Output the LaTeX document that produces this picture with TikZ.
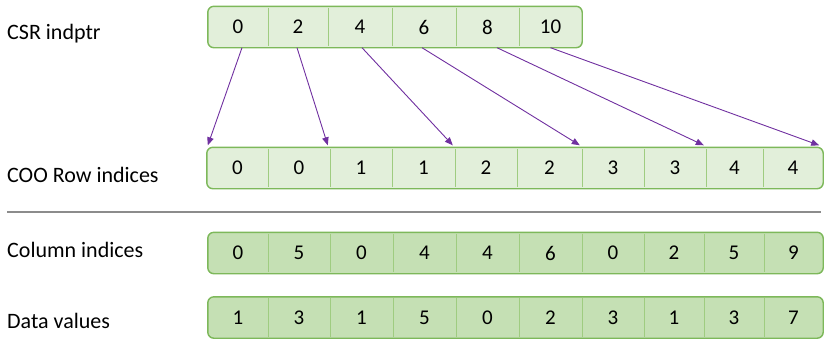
\documentclass[tikz,border=0pt]{standalone}
\usepackage{fontspec}
\setmainfont{Carlito}
\usetikzlibrary{arrows.meta,backgrounds}
\definecolor{lightfill}{HTML}{E2EFDA}
\definecolor{darkfill}{HTML}{C5E0B4}
\definecolor{boxline}{HTML}{7DB85A}
\definecolor{divline}{HTML}{9FCC80}
\definecolor{arrowpurple}{HTML}{7030A0}
\definecolor{sepgray}{HTML}{8C8C8C}
\tikzset{
  cell/.style={inner sep=0pt, minimum height=41pt, font=\fontsize{21}{25}\selectfont},
  rowlabel/.style={anchor=base west, inner sep=0pt, font=\fontsize{22}{26}\selectfont},
  lightbox/.style={fill=lightfill, draw=boxline, line width=1.4pt, rounded corners=6pt},
  darkbox/.style={fill=darkfill, draw=boxline, line width=1.4pt, rounded corners=6pt},
  divider/.style={draw=divline, line width=1pt, shorten <=1.5pt, shorten >=1.5pt},
  ptr/.style={draw=arrowpurple, line width=0.9pt, -{Triangle[length=8pt,width=6.5pt]}},
  separator/.style={draw=sepgray, line width=1.5pt}
}
\begin{document}
\begin{tikzpicture}[x=1pt,y=-1pt]
\useasboundingbox (0,0) rectangle (831,351);

% labels
\node[rowlabel] (lcsr) at (7,39) {CSR indptr};
\node[rowlabel] (lcoo) at (7,182) {COO Row indices};
\node[rowlabel] (lcol) at (7,257) {Column indices};
\node[rowlabel] (ldat) at (7,328) {Data values};

% CSR indptr row
\foreach \l/\r/\v [count=\i from 0] in {208/268/0,268/328/2,328/392/4,392/456/6,456/519/8,519/582/10}
  \node[cell, minimum width={(\r-\l)*1pt}] (t\i) at ({(\l+\r)/2},27) {\v};

% COO row
\foreach \l/\r/\v [count=\i from 0] in {207/268/0,268/330/0,330/392/1,392/455/1,455/517/2,517/582/2,582/644/3,644/706/3,706/763/4,763/823/4}
  \node[cell, minimum width={(\r-\l)*1pt}] (r\i) at ({(\l+\r)/2},168) {\v};

% Column indices row
\foreach \l/\r/\v [count=\i from 0] in {208/268/0,268/330/5,330/393/0,393/456/4,456/519/4,519/582/6,582/644/0,644/704/2,704/764/5,764/823/9}
  \node[cell, minimum width={(\r-\l)*1pt}] (c\i) at ({(\l+\r)/2},253) {\v};

% Data values row
\foreach \l/\r/\v [count=\i from 0] in {208/268/1,268/330/3,330/393/1,393/456/5,456/519/0,519/582/2,582/644/3,644/704/1,704/764/3,764/823/7}
  \node[cell, minimum width={(\r-\l)*1pt}] (d\i) at ({(\l+\r)/2},317.5) {\v};

\begin{scope}[on background layer]
  \draw[lightbox] (t0.north west) rectangle (t5.south east);
  \draw[lightbox] (r0.north west) rectangle (r9.south east);
  \draw[darkbox] (c0.north west) rectangle (c9.south east);
  \draw[darkbox] (d0.north west) rectangle (d9.south east);
\end{scope}

% dividers
\foreach \i in {0,...,4}
  \draw[divider] (t\i.north east) -- (t\i.south east);
\foreach \p in {r,c,d}
  \foreach \i in {0,...,8}
    \draw[divider] (\p\i.north east) -- (\p\i.south east);

% separator
\coordinate (sepL) at (7,212);
\coordinate (sepR) at (821,212);
\draw[separator] (sepL) -- (sepR);

% pointer arrows
\draw[ptr] ([xshift=4pt]t0.south) -- ([xshift=1pt,yshift=2pt]r0.north west);
\draw[ptr] ([xshift=-1pt]t1.south) -- ([xshift=-2pt,yshift=2pt]r2.north west);
\draw[ptr] ([xshift=2pt]t2.south) -- ([xshift=-2pt,yshift=2pt]r4.north west);
\draw[ptr] ([xshift=-2pt]t3.south) -- ([xshift=-2pt,yshift=2pt]r6.north west);
\draw[ptr] ([xshift=9.5pt]t4.south) -- ([xshift=-2pt,yshift=2pt]r8.north west);
\draw[ptr] (t5.south) -- ([xshift=-4pt,yshift=2pt]r9.north east);
\end{tikzpicture}
\end{document}
